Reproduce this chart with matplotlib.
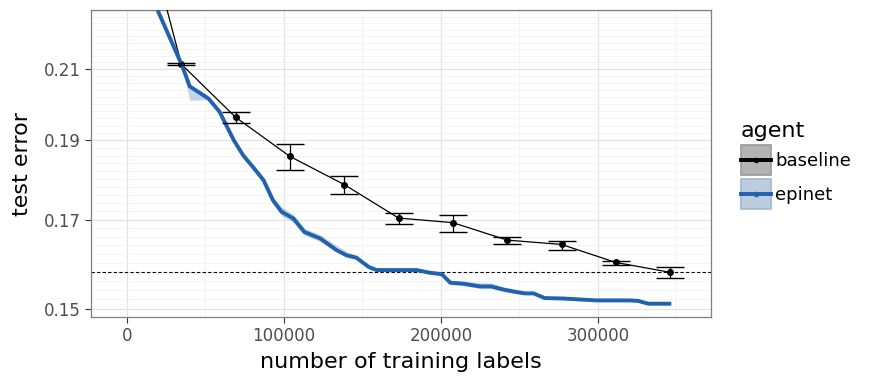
import matplotlib
matplotlib.use("Agg")
import matplotlib.pyplot as plt
from matplotlib.lines import Line2D
from matplotlib.patches import Rectangle
from matplotlib.ticker import FixedLocator, NullFormatter

# baseline agent: mean test error with error bars
base_x = [0, 34600, 69200, 103800, 138400, 173000, 207600, 242200, 276800, 311400, 346000]
base_y = [0.283, 0.2115, 0.1963, 0.1858, 0.1786, 0.1704, 0.1693, 0.1652, 0.1642, 0.1601, 0.1579]
base_lo = [0.280, 0.2113, 0.1947, 0.1822, 0.1762, 0.1689, 0.1670, 0.1642, 0.1630, 0.1596, 0.1567]
base_hi = [0.286, 0.2117, 0.1977, 0.1892, 0.1807, 0.1717, 0.1712, 0.1660, 0.1651, 0.1605, 0.1590]

# epinet agent: mean test error and ribbon
epi_x = [20000, 35000, 40000, 52000, 59000, 68000, 74000, 82000, 87000, 93000,
         98500, 106000, 113000, 123000, 133500, 140000, 146000, 154000, 159000,
         184500, 193000, 200500, 206000, 214000, 225000, 232000, 240000, 248000,
         253500, 259000, 266000, 278000, 299000, 320000, 325500, 332000, 345500]
epi_y = [0.2276, 0.2112, 0.2050, 0.2015, 0.1978, 0.1901, 0.1861, 0.1822, 0.1797, 0.1747,
         0.1719, 0.1703, 0.1671, 0.1656, 0.1629, 0.1617, 0.1612, 0.1591, 0.1584,
         0.1584, 0.1578, 0.1575, 0.1556, 0.1554, 0.1548, 0.1548, 0.1541, 0.1536,
         0.1533, 0.1533, 0.1523, 0.1522, 0.1518, 0.1518, 0.1517, 0.1511, 0.1511]
epi_err_lo = [0.0008, 0.0003, 0.0040, 0.0003, 0.0003, 0.0004, 0.0004, 0.0004, 0.0005, 0.0008,
              0.0010, 0.0009, 0.0008, 0.0007, 0.0004, 0.0005, 0.0004, 0.0003, 0.0003,
              0.0003, 0.0003, 0.0004, 0.0004, 0.0004, 0.0005, 0.0005, 0.0004, 0.0004,
              0.0003, 0.0003, 0.0003, 0.0003, 0.0003, 0.0003, 0.0003, 0.0003, 0.0003]
epi_err_hi = [0.0008, 0.0003, 0.0003, 0.0003, 0.0003, 0.0004, 0.0004, 0.0004, 0.0005, 0.0008,
              0.0012, 0.0010, 0.0009, 0.0009, 0.0011, 0.0009, 0.0005, 0.0003, 0.0003,
              0.0003, 0.0003, 0.0004, 0.0005, 0.0006, 0.0008, 0.0008, 0.0006, 0.0005,
              0.0004, 0.0003, 0.0003, 0.0003, 0.0003, 0.0003, 0.0003, 0.0003, 0.0003]

ref_level = 0.1579
y_ticks = [0.15, 0.17, 0.19, 0.21]
y_tick_labels = ["0.15", "0.17", "0.19", "0.21"]
x_ticks = [0, 100000, 200000, 300000]
x_tick_labels = ["0", "100000", "200000", "300000"]

blue = "#2062ad"
grid_major = "#e3e3e3"
grid_minor = "#f3f3f3"
tick_col = "#4d4d4d"


class KeyHandler:
    """ggplot-like legend key: filled square with a line and a dot across it"""

    def __init__(self, fill, edge, line_col):
        self.fill, self.edge, self.line_col = fill, edge, line_col

    def legend_artist(self, legend, orig_handle, fontsize, handlebox):
        x0, y0 = -handlebox.xdescent, -handlebox.ydescent
        w, h = handlebox.width, handlebox.height
        tr = handlebox.get_transform()
        box = Rectangle((x0, y0), w, h, facecolor=self.fill, edgecolor=self.edge,
                        lw=1.2, transform=tr)
        ln = Line2D([x0, x0 + w], [y0 + h / 2] * 2, color=self.line_col, lw=2.8,
                    transform=tr)
        dot = Line2D([x0 + w / 2], [y0 + h / 2], color=self.line_col, marker="o",
                     ms=3, transform=tr)
        handlebox.add_artist(box)
        handlebox.add_artist(ln)
        handlebox.add_artist(dot)
        return box


fig = plt.figure(figsize=(8.78, 3.87), dpi=100)
ax = fig.add_axes([91 / 878, 1 - 317 / 387, 620 / 878, 307 / 387])

ax.set_yscale("log")
ax.set_xlim(-22900, 372000)
ax.set_ylim(0.1483, 0.2282)

ax.yaxis.set_major_locator(FixedLocator(y_ticks))
ax.set_yticklabels(y_tick_labels)
ax.yaxis.set_minor_locator(FixedLocator([0.148 + 0.002 * i for i in range(41)]))
ax.yaxis.set_minor_formatter(NullFormatter())
ax.set_xticks(x_ticks)
ax.set_xticklabels(x_tick_labels)
ax.xaxis.set_minor_locator(FixedLocator([-50000, 50000, 150000, 250000, 350000]))

ax.grid(which="major", color=grid_major, lw=0.9, zorder=0)
ax.grid(which="minor", color=grid_minor, lw=0.6, zorder=0)
ax.set_axisbelow(True)
ax.tick_params(which="major", direction="out", length=4, width=0.8, color="#333333",
               labelsize=12, labelcolor=tick_col)
ax.tick_params(which="minor", length=0)
for s in ax.spines.values():
    s.set_color("#7f7f7f")
    s.set_linewidth(0.9)

# reference level
ax.axhline(ref_level, color="black", lw=0.8, ls=(0, (3, 2)), zorder=2)

# baseline
yerr = [[b - l for b, l in zip(base_y, base_lo)], [h - b for b, h in zip(base_y, base_hi)]]
ax.plot(base_x, base_y, color="black", lw=0.9, marker="o", ms=4, zorder=3)
ax.errorbar(base_x, base_y, yerr=yerr, fmt="none", ecolor="black", elinewidth=0.9,
            capsize=10, capthick=1.0, zorder=5)

# epinet
lo = [y - e for y, e in zip(epi_y, epi_err_lo)]
hi = [y + e for y, e in zip(epi_y, epi_err_hi)]
ax.fill_between(epi_x, lo, hi, color=blue, alpha=0.25, lw=0, zorder=3.5)
ax.plot(epi_x, epi_y, color=blue, lw=2.8, zorder=4)

ax.set_xlabel("number of training labels", fontsize=16, labelpad=5)
ax.set_ylabel("test error", fontsize=16, labelpad=8)

h_base, h_epi = object(), object()
leg = fig.legend([h_base, h_epi], ["baseline", "epinet"], title="agent",
                 handler_map={h_base: KeyHandler("#b3b3b3", "#999999", "black"),
                              h_epi: KeyHandler("#bccde0", "#a3b8d0", blue)},
                 loc="upper left", bbox_to_anchor=(741 / 878, 1 - 121 / 387),
                 frameon=False, fontsize=13, title_fontsize=16,
                 handlelength=1.65, handleheight=2.18, handletextpad=0.25,
                 labelspacing=0.22, borderaxespad=0, borderpad=0)
leg._legend_box.align = "left"

fig.savefig("out.png", dpi=100)
